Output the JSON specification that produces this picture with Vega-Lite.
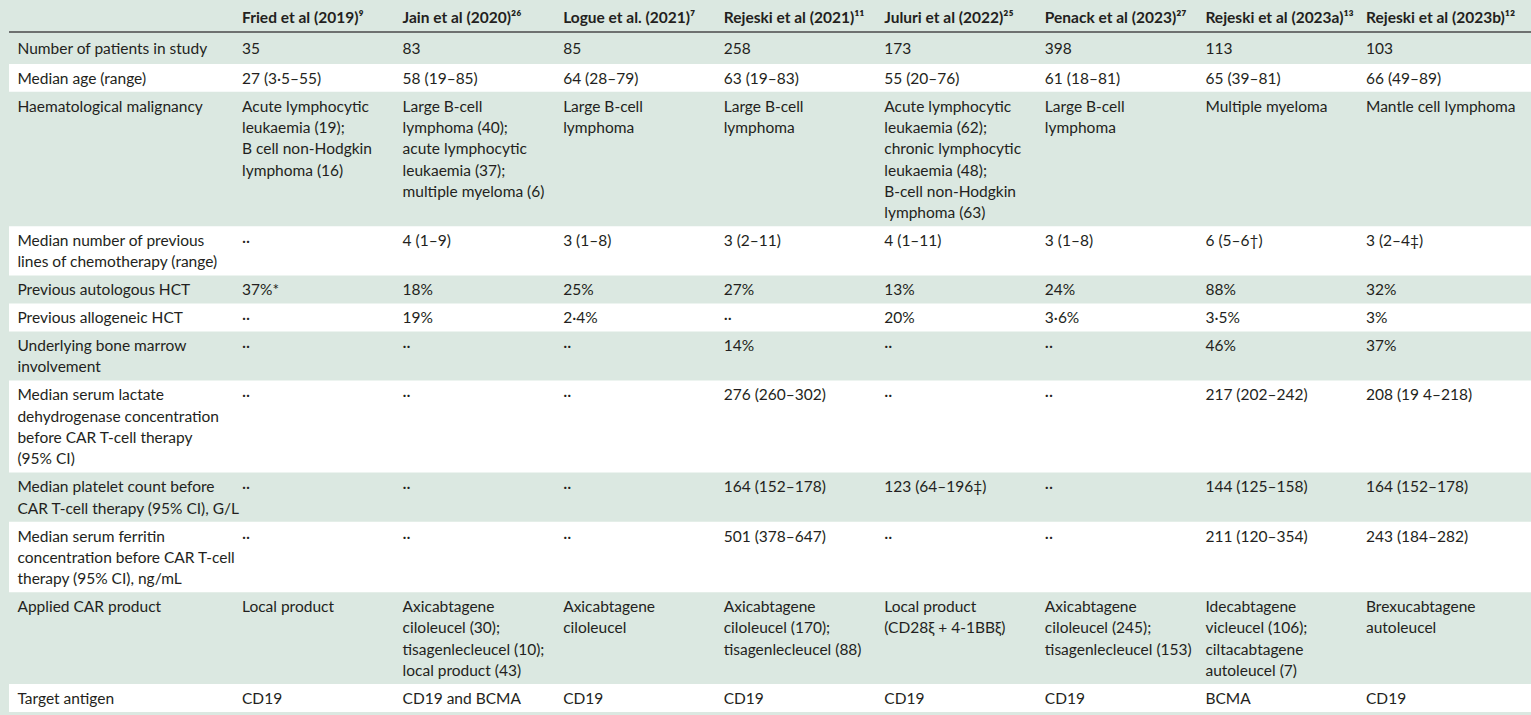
{
  "$schema": "https://vega.github.io/schema/vega-lite/v6.json",
  "width": 1522,
  "height": 715,
  "padding": {"left": 9, "top": 0, "right": 0, "bottom": 0},
  "autosize": {"type": "none"},
  "background": "#dbe8e1",
  "config": {"view": {"stroke": null}, "text": {"font": "Lato", "fontSize": 15.5, "color": "#231f20"}},
  "data": {
    "values": [
      {"r": 0, "c": 0, "t": [""]},
      {"r": 0, "c": 1, "t": ["Fried et al (2019)⁹"]},
      {"r": 0, "c": 2, "t": ["Jain et al (2020)²⁶"]},
      {"r": 0, "c": 3, "t": ["Logue et al. (2021)⁷"]},
      {"r": 0, "c": 4, "t": ["Rejeski et al (2021)¹¹"]},
      {"r": 0, "c": 5, "t": ["Juluri et al (2022)²⁵"]},
      {"r": 0, "c": 6, "t": ["Penack et al (2023)²⁷"]},
      {"r": 0, "c": 7, "t": ["Rejeski et al (2023a)¹³"]},
      {"r": 0, "c": 8, "t": ["Rejeski et al (2023b)¹²"]},

      {"r": 1, "c": 0, "t": ["Number of patients in study"]},
      {"r": 1, "c": 1, "t": ["35"]},
      {"r": 1, "c": 2, "t": ["83"]},
      {"r": 1, "c": 3, "t": ["85"]},
      {"r": 1, "c": 4, "t": ["258"]},
      {"r": 1, "c": 5, "t": ["173"]},
      {"r": 1, "c": 6, "t": ["398"]},
      {"r": 1, "c": 7, "t": ["113"]},
      {"r": 1, "c": 8, "t": ["103"]},

      {"r": 2, "c": 0, "t": ["Median age (range)"]},
      {"r": 2, "c": 1, "t": ["27 (3·5–55)"]},
      {"r": 2, "c": 2, "t": ["58 (19–85)"]},
      {"r": 2, "c": 3, "t": ["64 (28–79)"]},
      {"r": 2, "c": 4, "t": ["63 (19–83)"]},
      {"r": 2, "c": 5, "t": ["55 (20–76)"]},
      {"r": 2, "c": 6, "t": ["61 (18–81)"]},
      {"r": 2, "c": 7, "t": ["65 (39–81)"]},
      {"r": 2, "c": 8, "t": ["66 (49–89)"]},

      {"r": 3, "c": 0, "t": ["Haematological malignancy"]},
      {"r": 3, "c": 1, "t": ["Acute lymphocytic", "leukaemia (19);", "B cell non-Hodgkin", "lymphoma (16)"]},
      {"r": 3, "c": 2, "t": ["Large B-cell", "lymphoma (40);", "acute lymphocytic", "leukaemia (37);", "multiple myeloma (6)"]},
      {"r": 3, "c": 3, "t": ["Large B-cell", "lymphoma"]},
      {"r": 3, "c": 4, "t": ["Large B-cell", "lymphoma"]},
      {"r": 3, "c": 5, "t": ["Acute lymphocytic", "leukaemia (62);", "chronic lymphocytic", "leukaemia (48);", "B-cell non-Hodgkin", "lymphoma (63)"]},
      {"r": 3, "c": 6, "t": ["Large B-cell", "lymphoma"]},
      {"r": 3, "c": 7, "t": ["Multiple myeloma"]},
      {"r": 3, "c": 8, "t": ["Mantle cell lymphoma"]},

      {"r": 4, "c": 0, "t": ["Median number of previous", "lines of chemotherapy (range)"]},
      {"r": 4, "c": 1, "t": ["··"]},
      {"r": 4, "c": 2, "t": ["4 (1–9)"]},
      {"r": 4, "c": 3, "t": ["3 (1–8)"]},
      {"r": 4, "c": 4, "t": ["3 (2–11)"]},
      {"r": 4, "c": 5, "t": ["4 (1–11)"]},
      {"r": 4, "c": 6, "t": ["3 (1–8)"]},
      {"r": 4, "c": 7, "t": ["6 (5–6†)"]},
      {"r": 4, "c": 8, "t": ["3 (2–4‡)"]},

      {"r": 5, "c": 0, "t": ["Previous autologous HCT"]},
      {"r": 5, "c": 1, "t": ["37%*"]},
      {"r": 5, "c": 2, "t": ["18%"]},
      {"r": 5, "c": 3, "t": ["25%"]},
      {"r": 5, "c": 4, "t": ["27%"]},
      {"r": 5, "c": 5, "t": ["13%"]},
      {"r": 5, "c": 6, "t": ["24%"]},
      {"r": 5, "c": 7, "t": ["88%"]},
      {"r": 5, "c": 8, "t": ["32%"]},

      {"r": 6, "c": 0, "t": ["Previous allogeneic HCT"]},
      {"r": 6, "c": 1, "t": ["··"]},
      {"r": 6, "c": 2, "t": ["19%"]},
      {"r": 6, "c": 3, "t": ["2·4%"]},
      {"r": 6, "c": 4, "t": ["··"]},
      {"r": 6, "c": 5, "t": ["20%"]},
      {"r": 6, "c": 6, "t": ["3·6%"]},
      {"r": 6, "c": 7, "t": ["3·5%"]},
      {"r": 6, "c": 8, "t": ["3%"]},

      {"r": 7, "c": 0, "t": ["Underlying bone marrow", "involvement"]},
      {"r": 7, "c": 1, "t": ["··"]},
      {"r": 7, "c": 2, "t": ["··"]},
      {"r": 7, "c": 3, "t": ["··"]},
      {"r": 7, "c": 4, "t": ["14%"]},
      {"r": 7, "c": 5, "t": ["··"]},
      {"r": 7, "c": 6, "t": ["··"]},
      {"r": 7, "c": 7, "t": ["46%"]},
      {"r": 7, "c": 8, "t": ["37%"]},

      {"r": 8, "c": 0, "t": ["Median serum lactate", "dehydrogenase concentration", "before CAR T-cell therapy", "(95% CI)"]},
      {"r": 8, "c": 1, "t": ["··"]},
      {"r": 8, "c": 2, "t": ["··"]},
      {"r": 8, "c": 3, "t": ["··"]},
      {"r": 8, "c": 4, "t": ["276 (260–302)"]},
      {"r": 8, "c": 5, "t": ["··"]},
      {"r": 8, "c": 6, "t": ["··"]},
      {"r": 8, "c": 7, "t": ["217 (202–242)"]},
      {"r": 8, "c": 8, "t": ["208 (19 4–218)"]},

      {"r": 9, "c": 0, "t": ["Median platelet count before", "CAR T-cell therapy (95% CI), G/L"]},
      {"r": 9, "c": 1, "t": ["··"]},
      {"r": 9, "c": 2, "t": ["··"]},
      {"r": 9, "c": 3, "t": ["··"]},
      {"r": 9, "c": 4, "t": ["164 (152–178)"]},
      {"r": 9, "c": 5, "t": ["123 (64–196‡)"]},
      {"r": 9, "c": 6, "t": ["··"]},
      {"r": 9, "c": 7, "t": ["144 (125–158)"]},
      {"r": 9, "c": 8, "t": ["164 (152–178)"]},

      {"r": 10, "c": 0, "t": ["Median serum ferritin", "concentration before CAR T-cell", "therapy (95% CI), ng/mL"]},
      {"r": 10, "c": 1, "t": ["··"]},
      {"r": 10, "c": 2, "t": ["··"]},
      {"r": 10, "c": 3, "t": ["··"]},
      {"r": 10, "c": 4, "t": ["501 (378–647)"]},
      {"r": 10, "c": 5, "t": ["··"]},
      {"r": 10, "c": 6, "t": ["··"]},
      {"r": 10, "c": 7, "t": ["211 (120–354)"]},
      {"r": 10, "c": 8, "t": ["243 (184–282)"]},

      {"r": 11, "c": 0, "t": ["Applied CAR product"]},
      {"r": 11, "c": 1, "t": ["Local product"]},
      {"r": 11, "c": 2, "t": ["Axicabtagene", "ciloleucel (30);", "tisagenlecleucel (10);", "local product (43)"]},
      {"r": 11, "c": 3, "t": ["Axicabtagene", "ciloleucel"]},
      {"r": 11, "c": 4, "t": ["Axicabtagene", "ciloleucel (170);", "tisagenlecleucel (88)"]},
      {"r": 11, "c": 5, "t": ["Local product", "(CD28ξ + 4-1BBξ)"]},
      {"r": 11, "c": 6, "t": ["Axicabtagene", "ciloleucel (245);", "tisagenlecleucel (153)"]},
      {"r": 11, "c": 7, "t": ["Idecabtagene", "vicleucel (106);", "ciltacabtagene", "autoleucel (7)"]},
      {"r": 11, "c": 8, "t": ["Brexucabtagene", "autoleucel"]},

      {"r": 12, "c": 0, "t": ["Target antigen"]},
      {"r": 12, "c": 1, "t": ["CD19"]},
      {"r": 12, "c": 2, "t": ["CD19 and BCMA"]},
      {"r": 12, "c": 3, "t": ["CD19"]},
      {"r": 12, "c": 4, "t": ["CD19"]},
      {"r": 12, "c": 5, "t": ["CD19"]},
      {"r": 12, "c": 6, "t": ["CD19"]},
      {"r": 12, "c": 7, "t": ["BCMA"]},
      {"r": 12, "c": 8, "t": ["CD19"]}
    ]
  },
  "transform": [
    {"calculate": "length(datum.t)", "as": "n"},
    {"joinaggregate": [{"op": "max", "field": "n", "as": "rn"}], "groupby": ["r"]},
    {"calculate": "datum.r <= 1 ? 0.5 : 0.31", "as": "pad"},
    {"calculate": "datum.c == 0 ? datum.rn + datum.pad : 0", "as": "w"},
    {"window": [{"op": "sum", "field": "w", "as": "bottom"}], "sort": [{"field": "r", "order": "ascending"}, {"field": "c", "order": "ascending"}], "frame": [null, 0]},
    {"calculate": "datum.bottom - datum.rn - datum.pad", "as": "top"},
    {"calculate": "datum.top + datum.pad / 2", "as": "ty"}
  ],
  "layer": [
    {
      "transform": [{"filter": "datum.c == 0 && datum.r > 0 && datum.r % 2 == 0"}],
      "mark": {"type": "rect", "color": "#ffffff"},
      "encoding": {
        "y": {"field": "top", "type": "quantitative", "scale": {"domain": [0, 33.55], "reverse": true, "nice": false, "zero": false}, "axis": null},
        "y2": {"field": "bottom"}
      }
    },
    {
      "transform": [{"filter": "datum.c == 0 && datum.r == 0"}],
      "mark": {"type": "rule", "color": "#4a4a4a", "strokeWidth": 1.5},
      "encoding": {
        "y": {"field": "bottom", "type": "quantitative"}
      }
    },
    {
      "transform": [{"filter": "datum.r == 0 && datum.c > 0"}],
      "mark": {"type": "text", "align": "left", "baseline": "line-top", "lineHeight": 21.31, "fontWeight": "bold", "dy": 3},
      "encoding": {
        "x": {"field": "c", "type": "quantitative", "scale": {"domain": [-0.4511, 9.0276], "nice": false, "zero": false}, "axis": null},
        "y": {"field": "ty", "type": "quantitative"},
        "text": {"field": "t"}
      }
    },
    {
      "transform": [{"filter": "datum.r > 0 && datum.c == 0"}],
      "mark": {"type": "text", "align": "left", "baseline": "line-top", "lineHeight": 21.31, "dx": -64, "dy": 1.5},
      "encoding": {
        "x": {"field": "c", "type": "quantitative"},
        "y": {"field": "ty", "type": "quantitative"},
        "text": {"field": "t"}
      }
    },
    {
      "transform": [{"filter": "datum.r > 0 && datum.c > 0"}],
      "mark": {"type": "text", "align": "left", "baseline": "line-top", "lineHeight": 21.31, "dy": 1.5},
      "encoding": {
        "x": {"field": "c", "type": "quantitative"},
        "y": {"field": "ty", "type": "quantitative"},
        "text": {"field": "t"}
      }
    }
  ]
}
